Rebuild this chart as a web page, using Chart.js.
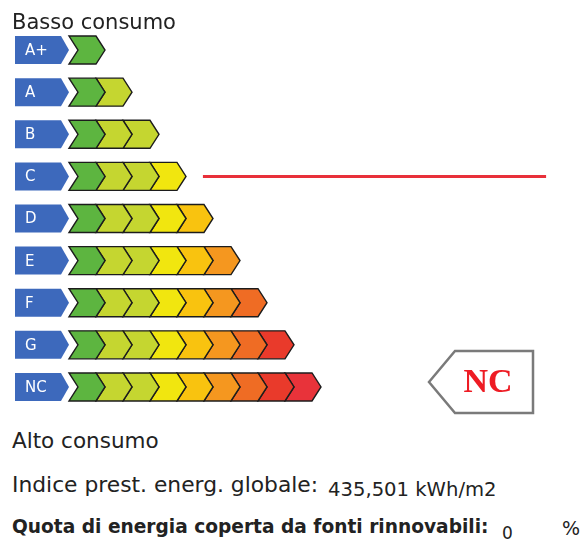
<!DOCTYPE html>
<html>
<head>
<meta charset="utf-8">
<script src="https://cdn.jsdelivr.net/npm/chart.js@4/dist/chart.umd.min.js"></script>
<style>
  body { margin: 0; background: #fff; }
  #wrap { position: relative; width: 582px; height: 545px; overflow: hidden; font-family: "DejaVu Sans", sans-serif; color: #222; }
  #chartBox { position: absolute; left: 0; top: 0; width: 582px; height: 420px; }
  .txt { position: absolute; left: 12px; white-space: nowrap; }
</style>
</head>
<body>
<div id="wrap">
  <div id="chartBox"><canvas id="energyChart"></canvas></div>
  <div class="txt" style="top:10px;font-size:21px;">Basso consumo</div>
  <div class="txt" style="top:428px;font-size:21.5px;">Alto consumo</div>
  <div class="txt" style="top:472px;font-size:21.8px;">Indice prest. energ. globale:</div>
  <div class="txt" style="top:478px;left:328px;font-size:19.6px;">435,501 kWh/m2</div>
  <div class="txt" style="top:516px;font-size:18.6px;font-weight:bold;">Quota di energia coperta da fonti rinnovabili:</div>
  <div class="txt" style="top:523px;left:502px;font-size:17px;">0</div>
  <div class="txt" style="top:517px;left:562px;font-size:19px;">%</div>
</div>

<script>
// classes from lowest to highest consumption
const energyClasses = ['A+', 'A', 'B', 'C', 'D', 'E', 'F', 'G', 'NC'];
// number of coloured arrows on each class row
const arrowCounts = [1, 2, 3, 4, 5, 6, 7, 8, 9];
// colour of arrow n (same position on every row)
const arrowColors = ['#5db540', '#c5d630', '#c5d630', '#f1e60f', '#f9c30f', '#f5971f', '#ef6c24', '#e93a2b', '#e8333a'];
const markedClass = 'C';      // red marker line
const buildingClass = 'NC';   // class tag of the building

const datasets = arrowColors.map((color, n) => ({
  label: 'arrow ' + (n + 1),
  data: arrowCounts.map(c => (c > n ? 1 : null)),
  backgroundColor: color,
  barThickness: 28
}));

// draw every bar as a chevron instead of a rectangle
const chevronBars = {
  id: 'chevronBars',
  beforeDatasetDraw(chart, args) {
    const ctx = chart.ctx;
    const color = chart.data.datasets[args.index].backgroundColor;
    args.meta.data.forEach((bar, i) => {
      if (chart.data.datasets[args.index].data[i] == null) return;
      const p = bar.getProps(['x', 'y', 'base', 'height'], true);
      const x0 = p.base, x1 = p.x, top = p.y - p.height / 2, bot = p.y + p.height / 2, d = 9;
      ctx.save();
      ctx.beginPath();
      ctx.moveTo(x0, top);
      ctx.lineTo(x1, top);
      ctx.lineTo(x1 + d, p.y);
      ctx.lineTo(x1, bot);
      ctx.lineTo(x0, bot);
      ctx.lineTo(x0 + d, p.y);
      ctx.closePath();
      ctx.fillStyle = color;
      ctx.fill();
      ctx.strokeStyle = '#1c1c1c';
      ctx.lineWidth = 1.4;
      ctx.stroke();
      ctx.restore();
    });
    return false;
  }
};

// blue class labels, marker line and class tag
const labelsAndTag = {
  id: 'labelsAndTag',
  afterDatasetsDraw(chart) {
    const ctx = chart.ctx;
    const xs = chart.scales.x, ys = chart.scales.y;
    const h = 28;
    energyClasses.forEach((cls, i) => {
      const y = ys.getPixelForValue(i);
      const left = xs.getPixelForValue(-2), tip = xs.getPixelForValue(0);
      ctx.save();
      ctx.beginPath();
      ctx.moveTo(left, y - h / 2);
      ctx.lineTo(tip - 8, y - h / 2);
      ctx.lineTo(tip, y);
      ctx.lineTo(tip - 8, y + h / 2);
      ctx.lineTo(left, y + h / 2);
      ctx.closePath();
      ctx.fillStyle = '#3d69bc';
      ctx.fill();
      ctx.fillStyle = '#ffffff';
      ctx.font = '15px "DejaVu Sans"';
      ctx.textBaseline = 'middle';
      ctx.fillText(cls, left + 10, y + 1);
      ctx.restore();
    });

    // red line at the marked class
    const yc = ys.getPixelForValue(energyClasses.indexOf(markedClass));
    ctx.save();
    ctx.strokeStyle = '#e8303a';
    ctx.lineWidth = 3;
    ctx.beginPath();
    ctx.moveTo(xs.getPixelForValue(4.96), yc);
    ctx.lineTo(xs.getPixelForValue(17.67), yc);
    ctx.stroke();
    ctx.restore();

    // tag pointing left with the building class
    const yt = ys.getPixelForValue(energyClasses.indexOf(buildingClass)) - 5;
    const tx = 429, th = 31;
    ctx.save();
    ctx.beginPath();
    ctx.moveTo(tx, yt);
    ctx.lineTo(tx + 26, yt - th);
    ctx.lineTo(533, yt - th);
    ctx.lineTo(533, yt + th);
    ctx.lineTo(tx + 26, yt + th);
    ctx.closePath();
    ctx.fillStyle = '#ffffff';
    ctx.fill();
    ctx.strokeStyle = '#7a7a7a';
    ctx.lineWidth = 2.5;
    ctx.stroke();
    ctx.fillStyle = '#ee1c24';
    ctx.font = 'bold 34px "Liberation Serif"';
    ctx.textAlign = 'center';
    ctx.textBaseline = 'middle';
    ctx.fillText(buildingClass, 488, yt + 1);
    ctx.restore();
  }
};

new Chart(document.getElementById('energyChart'), {
  type: 'bar',
  data: { labels: energyClasses, datasets: datasets },
  options: {
    indexAxis: 'y',
    responsive: true,
    maintainAspectRatio: false,
    animation: false,
    layout: { padding: { left: 15, right: 0, top: 29, bottom: 12 } },
    plugins: { legend: { display: false }, tooltip: { enabled: false } },
    scales: {
      x: { stacked: true, display: false, min: -2, max: 19 },
      y: { stacked: true, display: false }
    }
  },
  plugins: [chevronBars, labelsAndTag]
});
</script>
</body>
</html>
